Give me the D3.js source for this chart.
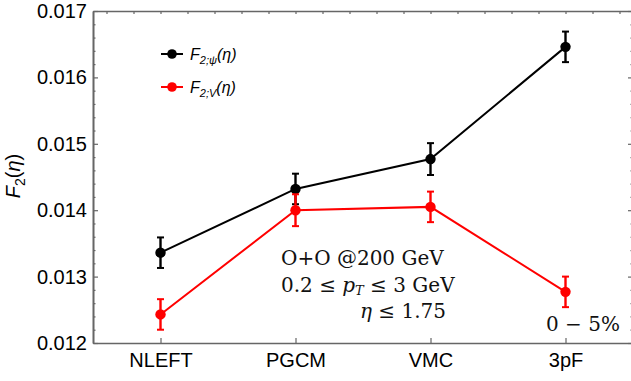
<!DOCTYPE html>
<html>
<head>
<meta charset="utf-8">
<script src="https://cdn.jsdelivr.net/npm/d3@7"></script>
<style>
  body { margin: 0; background: #fff; }
  svg { display: block; }
</style>
</head>
<body>
<script>
// categories along x (placed at 1..4)
var models = ['NLEFT', 'PGCM', 'VMC', '3pF'];

// F2;psi(eta) - black
var psiValues = [0.01336, 0.01432, 0.01477, 0.01646];
var psiErrors = [0.00023, 0.00023, 0.00024, 0.00023];

// F2;V(eta) - red
var vValues = [0.01243, 0.01400, 0.01405, 0.01277];
var vErrors = [0.00023, 0.00024, 0.00023, 0.00023];

var yMajor = [0.012, 0.013, 0.014, 0.015, 0.016, 0.017];

var width = 631, height = 381;
var frameColor = '#666';

var svg = d3.select('body').append('svg')
    .attr('width', width)
    .attr('height', height)
    .style('background', '#fff');

var x = d3.scaleLinear().domain([0.5, 4.5]).range([93, 633]);
var y = d3.scaleLinear().domain([0.012, 0.017]).range([343, 11]);

// minor ticks every 0.0002
var yMinor = d3.range(0, 26).map(function(i) { return +(0.012 + i * 0.0002).toFixed(4); })
    .filter(function(v) { return yMajor.indexOf(v) < 0; });
// top minor ticks every 0.2 category units
var xTop = d3.range(0, 20).map(function(i) { return +(0.6 + i * 0.2).toFixed(1); });

function styleAxis(g) {
    g.selectAll('path.domain').attr('stroke', frameColor).attr('stroke-width', 1.6);
    g.selectAll('.tick line').attr('stroke', frameColor).attr('stroke-width', 1.2);
    g.selectAll('.tick text')
        .attr('fill', '#000')
        .style('font-family', '"Liberation Sans", Arial, sans-serif')
        .style('font-size', '20px');
}

// left
svg.append('g').attr('transform', 'translate(93,0)')
    .call(d3.axisLeft(y).tickValues(yMinor).tickSize(-2.5).tickSizeOuter(0).tickFormat(''))
    .call(styleAxis);
svg.append('g').attr('transform', 'translate(93,0)')
    .call(d3.axisLeft(y).tickValues(yMajor).tickSize(-5).tickSizeOuter(0).tickPadding(6)
        .tickFormat(d3.format('.3f')))
    .call(styleAxis);

// right (mirror)
svg.append('g').attr('transform', 'translate(633,0)')
    .call(d3.axisRight(y).tickValues(yMinor).tickSize(-2.5).tickSizeOuter(0).tickFormat(''))
    .call(styleAxis);
svg.append('g').attr('transform', 'translate(633,0)')
    .call(d3.axisRight(y).tickValues(yMajor).tickSize(-5).tickSizeOuter(0).tickFormat(''))
    .call(styleAxis);

// bottom
svg.append('g').attr('transform', 'translate(0,343)')
    .call(d3.axisBottom(x).tickValues([1, 2, 3, 4]).tickSize(-5).tickSizeOuter(0).tickPadding(10)
        .tickFormat(function(d) { return models[d - 1]; }))
    .call(styleAxis);

// top
svg.append('g').attr('transform', 'translate(0,11)')
    .call(d3.axisTop(x).tickValues(xTop).tickSize(-3).tickSizeOuter(0).tickFormat(''))
    .call(styleAxis);

// series
var series = [
    { values: psiValues, errors: psiErrors, color: '#000' },
    { values: vValues, errors: vErrors, color: '#ff0000' }
];

var line = d3.line()
    .x(function(d, i) { return x(i + 1); })
    .y(function(d) { return y(d); });

series.forEach(function(s) {
    var g = svg.append('g');
    g.append('path')
        .attr('d', line(s.values))
        .attr('fill', 'none')
        .attr('stroke', s.color)
        .attr('stroke-width', 2);

    var pts = g.selectAll('g.pt').data(s.values).enter().append('g');
    pts.append('line')
        .attr('x1', function(d, i) { return x(i + 1); })
        .attr('x2', function(d, i) { return x(i + 1); })
        .attr('y1', function(d, i) { return y(d - s.errors[i]); })
        .attr('y2', function(d, i) { return y(d + s.errors[i]); })
        .attr('stroke', s.color).attr('stroke-width', 2.4);
    [-1, 1].forEach(function(sign) {
        pts.append('line')
            .attr('x1', function(d, i) { return x(i + 1) - 3.5; })
            .attr('x2', function(d, i) { return x(i + 1) + 3.5; })
            .attr('y1', function(d, i) { return y(d + sign * s.errors[i]); })
            .attr('y2', function(d, i) { return y(d + sign * s.errors[i]); })
            .attr('stroke', s.color).attr('stroke-width', 2);
    });
    pts.append('circle')
        .attr('cx', function(d, i) { return x(i + 1); })
        .attr('cy', function(d) { return y(d); })
        .attr('r', 5.2)
        .attr('fill', s.color);
});

// y label
var yl = svg.append('text')
    .attr('transform', 'translate(20,176) rotate(-90)')
    .attr('text-anchor', 'middle')
    .style('font-family', '"Liberation Sans", Arial, sans-serif')
    .style('font-size', '20px');
yl.append('tspan').style('font-style', 'italic').text('F');
yl.append('tspan').attr('dy', 5).style('font-size', '14px').text('2');
yl.append('tspan').attr('dy', -5).text('(');
yl.append('tspan').style('font-style', 'italic').text('η');
yl.append('tspan').text(')');

// legend
var legendItems = [
    { sub: '2;ψ', color: '#000', y: 54 },
    { sub: '2;V', color: '#ff0000', y: 87 }
];
legendItems.forEach(function(it) {
    svg.append('line')
        .attr('x1', 161).attr('x2', 183)
        .attr('y1', it.y).attr('y2', it.y)
        .attr('stroke', it.color).attr('stroke-width', 2);
    svg.append('circle').attr('cx', 172).attr('cy', it.y).attr('r', 4.8).attr('fill', it.color);
    var t = svg.append('text')
        .attr('x', 190).attr('y', it.y + 5.5)
        .style('font-family', '"Liberation Sans", Arial, sans-serif')
        .style('font-size', '16px')
        .style('font-style', 'italic');
    t.append('tspan').text('F');
    t.append('tspan').attr('dy', 4).style('font-size', '11px').text(it.sub);
    t.append('tspan').attr('dy', -4).text('(η)');
});

// annotations
var serif = '"DejaVu Serif", "Liberation Serif", serif';
function note(xp, yp, parts) {
    var t = svg.append('text').attr('x', xp).attr('y', yp)
        .style('font-family', serif).style('font-size', '20px').attr('fill', '#111');
    parts.forEach(function(p) {
        var s = t.append('tspan').text(p.t);
        if (p.i) s.style('font-style', 'italic');
        if (p.dy) s.attr('dy', p.dy);
        if (p.fs) s.style('font-size', p.fs);
    });
}
note(281, 265, [{ t: 'O+O @200 GeV' }]);
note(281, 292, [{ t: '0.2 ≤ ' }, { t: 'p', i: 1 }, { t: 'T', i: 1, dy: 3, fs: '13px' }, { t: ' ≤ 3 GeV', dy: -3 }]);
note(360, 318, [{ t: 'η', i: 1 }, { t: ' ≤ 1.75' }]);
note(546, 331, [{ t: '0 − 5%' }]);
</script>
</body>
</html>
